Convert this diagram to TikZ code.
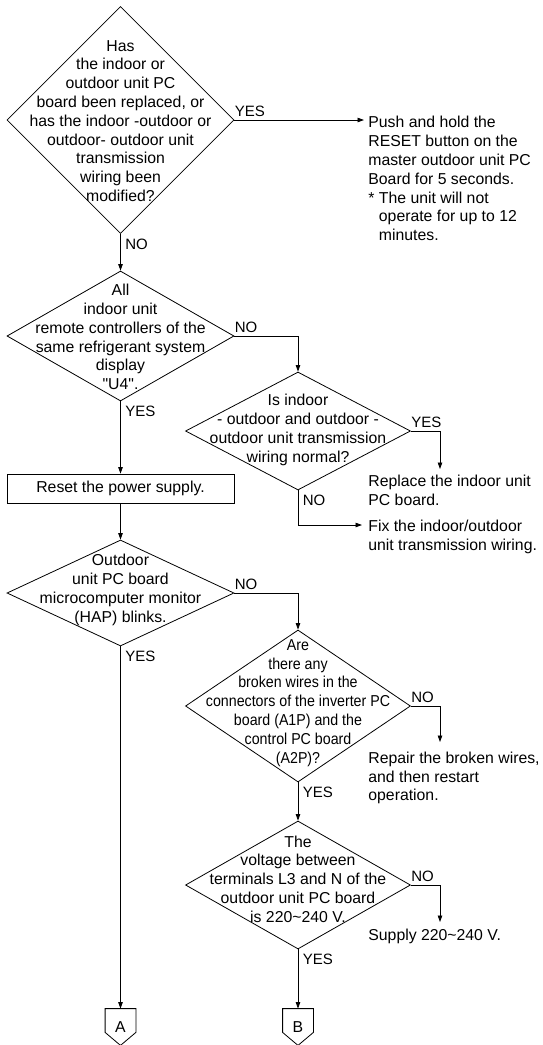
\documentclass[tikz,border=0pt]{standalone}
\usepackage{fontspec}
\setmainfont{Liberation Sans}
\usepackage{graphicx}
\usetikzlibrary{shapes.geometric, arrows.meta}

\begin{document}
\begin{tikzpicture}[x=1pt, y=-1pt, line width=0.8pt,
    every node/.style={font=\fontsize{15.8}{18.8}\selectfont},
    decision/.style={draw, diamond, inner sep=0pt},
    words/.style={align=center, inner sep=0pt},
    note/.style={align=left, inner sep=0pt, anchor=north west},
    arr/.style={-{Triangle[length=6.5pt, width=4.5pt]}},
    yesno/.style={inner sep=0pt, font=\fontsize{15}{18}\selectfont},
    upr/.style={yesno, anchor=south west, inner ysep=2.5pt},
    dnr/.style={yesno, anchor=north west, inner sep=4.5pt},
    offpage/.style={inner sep=0pt, minimum width=30pt, minimum height=36pt}]

        \useasboundingbox (0,0) rectangle (542,1045);

        % Decision diamonds, left column
        \node[decision, minimum width=227pt, minimum height=227pt] (d1) at (120.5,120) {};
        \node[decision, minimum width=227pt, minimum height=130pt] (d2) at (120.5,336) {};
        \node[decision, minimum width=227pt, minimum height=106pt] (d4) at (120.5,593) {};

        % Decision diamonds, right column
        \node[decision, minimum width=225pt, minimum height=118pt] (d3) at (298,431) {};
        \node[decision, minimum width=225pt, minimum height=152pt] (d5) at (298,706) {};
        \node[decision, minimum width=225pt, minimum height=128pt] (d6) at (298,885) {};

        % Questions written over the diamonds
        \node[words] (q1) at (120.5,121) {Has\\the indoor or\\outdoor unit PC\\board been replaced, or\\has the indoor -outdoor or\\outdoor- outdoor unit\\transmission\\wiring been\\modified?};
        \node[words] (q2) at (120.5,337) {All\\indoor unit\\remote controllers of the\\same refrigerant system\\display\\\textquotedbl U4\textquotedbl.};
        \node[words] (q3) at (298,430) {Is indoor\\- outdoor and outdoor -\\outdoor unit transmission\\wiring normal?};
        \node[words] (q4) at (120.5,590) {Outdoor\\unit PC board\\microcomputer monitor\\(HAP) blinks.};
        \node[words] (q5) at (298,703) {\scalebox{0.9}[1]{\begin{tabular}{@{}c@{}}Are\\there any\\broken wires in the\\connectors of the inverter PC\\board (A1P) and the\\control PC board\\(A2P)?\end{tabular}}};
        \node[words] (q6) at (298,879) {The\\voltage between\\terminals L3 and N of the\\outdoor unit PC board\\is 220\textasciitilde240 V.};

        % Process box
        \node[draw, minimum width=227pt, minimum height=29pt, inner sep=0pt] (reset) at (120.5,488.5) {Reset the power supply.};

        % Remedies on the right
        \node[note] (push) at (368,116) {Push and hold the\\RESET button on the\\master outdoor unit PC\\Board for 5 seconds.\\* The unit will not\\\hphantom{* }operate for up to 12\\\hphantom{* }minutes.};
        \node[note] (replace) at (368,474.5) {Replace the indoor unit\\PC board.};
        \node[note] (fix) at (368,519.5) {Fix the indoor/outdoor\\unit transmission wiring.};
        \node[note] (repair) at (368,751.5) {Repair the broken wires,\\and then restart\\operation.};
        \node[note] (supply) at (368,928.5) {Supply 220\textasciitilde240 V.};

        % Off-page connectors
        \node[offpage] (conA) at (120.5,1027) {A};
        \node[offpage] (conB) at (298,1027) {B};
        \foreach \c in {conA, conB}
            \draw (\c.north west) -- (\c.north east) -- ([yshift=13pt]\c.south east)
                -- (\c.south) -- ([yshift=13pt]\c.south west) -- cycle;

        % Free ends of the branch arrows
        \coordinate (yes3) at (440,469);
        \coordinate (no3) at (362,525);
        \coordinate (no5) at (440,742);
        \coordinate (no6) at (440,922);

        % Connectors
        \draw[arr, shorten >=4pt] (d1.east) node[upr] {YES} -- (d1.east -| push.west);
        \draw[arr] (d1.south) node[dnr] {NO} -- (d2.north);
        \draw[arr] (d2.east) node[upr] {NO} -| (d3.north);
        \draw[arr] (d2.south) node[dnr] {YES} -- (reset.north);
        \draw[arr] (d3.east) node[upr] {YES} -| (yes3);
        \draw[arr] (d3.south) node[dnr] {NO} |- (no3);
        \draw[arr] (reset.south) -- (d4.north);
        \draw[arr] (d4.east) node[upr] {NO} -| (d5.north);
        \draw[arr] (d4.south) node[dnr] {YES} -- (conA.north);
        \draw[arr] (d5.east) node[upr] {NO} -| (no5);
        \draw[arr] (d5.south) node[dnr] {YES} -- (d6.north);
        \draw[arr] (d6.east) node[upr] {NO} -| (no6);
        \draw[arr] (d6.south) node[dnr] {YES} -- (conB.north);
    \end{tikzpicture}
\end{document}
